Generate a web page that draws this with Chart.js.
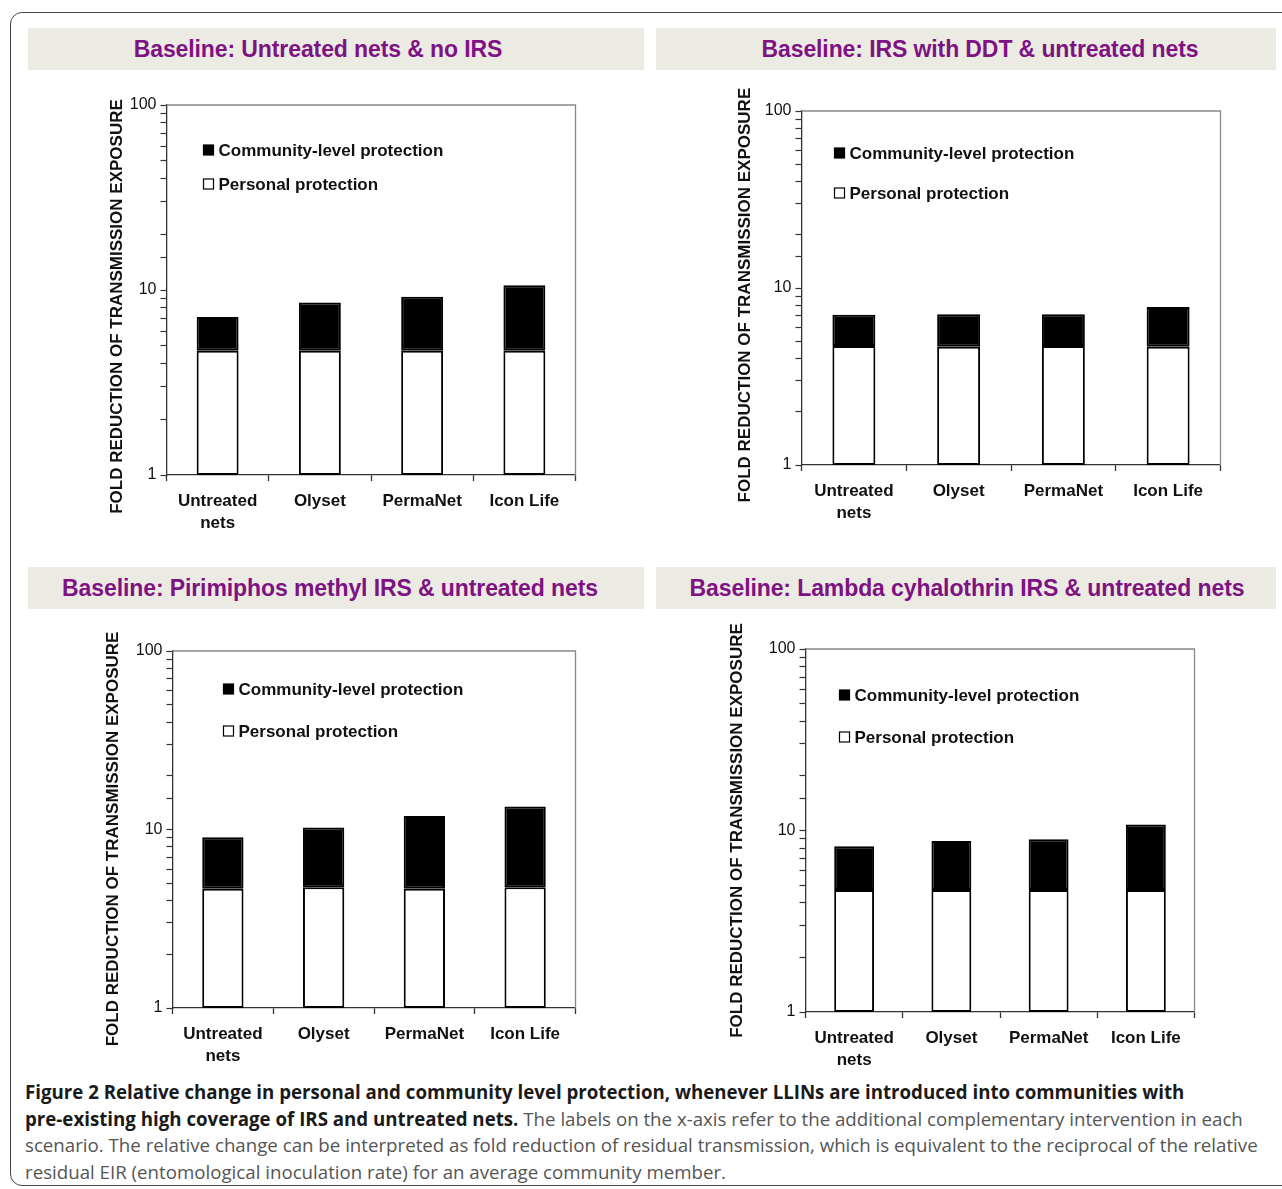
<!DOCTYPE html>
<html>
<head>
<meta charset="utf-8">
<script src="https://cdn.jsdelivr.net/npm/chart.js@4/dist/chart.umd.min.js"></script>
<style>
  body { margin: 0; background: #fff; width: 1282px; height: 1189px; overflow: hidden; position: relative; }
  #frame { position: absolute; left: 10px; top: 12px; width: 1300px; height: 1172px; border: 1.5px solid #444; border-radius: 12px; }
  .bar { position: absolute; height: 42px; background: #ecebe3; display: flex; align-items: center; justify-content: center;
         font: bold 23px "Liberation Sans", Arial, sans-serif; color: #7e1282; letter-spacing: -0.1px; white-space: nowrap; }
  .bar span { position: relative; }
  .box { position: absolute; }
  #caption { position: absolute; left: 25px; top: 1079px; font-family: "Open Sans", sans-serif; font-size: 18.7px;
             line-height: 26.5px; color: #555; white-space: nowrap; }
  #caption b { color: #1a1a1a; }
</style>
</head>
<body>
<div id="frame"></div>
<div id="panels"></div>
<div id="caption"><b>Figure 2 Relative change in personal and community level protection, whenever LLINs are introduced into communities with<br>pre-existing high coverage of IRS and untreated nets.</b> The labels on the x-axis refer to the additional complementary intervention in each<br>scenario. The relative change can be interpreted as fold reduction of residual transmission, which is equivalent to the reciprocal of the relative<br>residual EIR (entomological inoculation rate) for an average community member.</div>

<script>
// categories on the x axis
const categories = [['Untreated', 'nets'], 'Olyset', 'PermaNet', 'Icon Life'];
const yTickLabels = [1, 10, 100];

const titles = [
  'Baseline: Untreated nets & no IRS',
  'Baseline: IRS with DDT & untreated nets',
  'Baseline: Pirimiphos methyl IRS & untreated nets',
  'Baseline: Lambda cyhalothrin IRS & untreated nets'
];

// fold reduction, white part (personal) and black part on top (community)
const personal1 = [4.7, 4.7, 4.7, 4.7];
const community1 = [2.45, 3.85, 4.5, 5.9];
const personal2 = [4.7, 4.65, 4.7, 4.65];
const community2 = [2.35, 2.45, 2.4, 3.15];
const personal3 = [4.65, 4.75, 4.65, 4.75];
const community3 = [4.4, 5.5, 7.25, 8.7];
const personal4 = [4.7, 4.7, 4.7, 4.7];
const community4 = [3.5, 4.05, 4.25, 6.1];

const personalAll = [personal1, personal2, personal3, personal4];
const communityAll = [community1, community2, community3, community4];

// where things go on the page
const bars = [
  { left: 28, top: 28, width: 616, shift: -18 },
  { left: 656, top: 28, width: 620, shift: 14 },
  { left: 28, top: 567, width: 616, shift: -6 },
  { left: 656, top: 567, width: 620, shift: 1 }
];
// yPush = spaces after the axis title, to nudge it down like the original
const plots = [
  { l: 166, t: 105, r: 575, b: 475, titleX: 117, leg: [37, 45, 79], yPush: 7 },
  { l: 801, t: 111, r: 1220, b: 465, titleX: 745, leg: [33, 42, 82], yPush: 3 },
  { l: 172, t: 651, r: 575, b: 1008, titleX: 113, leg: [51, 38, 80], yPush: 4 },
  { l: 805, t: 649, r: 1194, b: 1012, titleX: 737, leg: [34, 46, 88], yPush: 0 }
];

const TOP_PAD = 40, RIGHT_PAD = 10, X_H = 64, TITLE_SIZE = 17;
const Y_TITLE = 'FOLD REDUCTION OF TRANSMISSION EXPOSURE';

// top + right lines of the plot box
const framePlugin = {
  id: 'frameBox',
  beforeDatasetsDraw(chart) {
    const { ctx, chartArea: a } = chart;
    ctx.save();
    ctx.strokeStyle = '#888';
    ctx.lineWidth = 1.3;
    ctx.beginPath();
    ctx.moveTo(a.left, a.top);
    ctx.lineTo(a.right, a.top);
    ctx.lineTo(a.right, a.bottom);
    ctx.stroke();
    ctx.restore();
  }
};

// legend drawn inside the plot, community first
const legendPlugin = {
  id: 'innerLegend',
  afterDraw(chart, args, opts) {
    const { ctx, chartArea: a } = chart;
    const ds = chart.data.datasets.slice().reverse();
    const ys = [opts.dy1, opts.dy2];
    ctx.save();
    ctx.font = 'bold 17px "Liberation Sans", Arial, sans-serif';
    ctx.textBaseline = 'middle';
    ds.forEach((d, i) => {
      const x = a.left + opts.dx, y = a.top + ys[i];
      ctx.fillStyle = d.backgroundColor;
      ctx.strokeStyle = '#000';
      ctx.lineWidth = 1.2;
      ctx.fillRect(x, y - 5, 10, 10);
      ctx.strokeRect(x, y - 5, 10, 10);
      ctx.fillStyle = '#111';
      ctx.fillText(d.label, x + 15, y + 1);
    });
    ctx.restore();
  }
};

const panels = document.getElementById('panels');

for (let i = 0; i < 4; i++) {
  const b = bars[i];
  const bar = document.createElement('div');
  bar.className = 'bar';
  bar.style.left = b.left + 'px';
  bar.style.top = b.top + 'px';
  bar.style.width = b.width + 'px';
  bar.innerHTML = '<span style="left:' + b.shift + 'px"></span>';
  bar.firstChild.textContent = titles[i];
  panels.appendChild(bar);

  const p = plots[i];
  const boxLeft = p.titleX - TITLE_SIZE / 2;
  const yw = p.l - boxLeft;
  const box = document.createElement('div');
  box.className = 'box';
  box.style.left = boxLeft + 'px';
  box.style.top = (p.t - TOP_PAD) + 'px';
  box.style.width = (p.r + RIGHT_PAD - boxLeft) + 'px';
  box.style.height = (p.b + X_H - p.t + TOP_PAD) + 'px';
  const cv = document.createElement('canvas');
  box.appendChild(cv);
  panels.appendChild(box);

  new Chart(cv, {
    type: 'bar',
    data: {
      labels: categories,
      datasets: [
        { label: 'Personal protection', data: personalAll[i], backgroundColor: '#ffffff', borderColor: '#000', borderWidth: 2, borderSkipped: false },
        { label: 'Community-level protection', data: communityAll[i], backgroundColor: '#000000', borderColor: '#000', borderWidth: 2, borderSkipped: false }
      ]
    },
    options: {
      responsive: true,
      maintainAspectRatio: false,
      animation: false,
      datasets: { bar: { barPercentage: 0.41, categoryPercentage: 1 } },
      layout: { padding: { left: 0, top: TOP_PAD, right: RIGHT_PAD, bottom: 0 } },
      plugins: {
        legend: { display: false },
        tooltip: { enabled: false },
        innerLegend: { dx: p.leg[0], dy1: p.leg[1], dy2: p.leg[2] }
      },
      scales: {
        x: {
          stacked: true,
          offset: true,
          grid: { offset: true, drawOnChartArea: false, drawTicks: true, tickLength: 6, color: '#333', tickWidth: 1.3 },
          border: { color: '#333', width: 1.3 },
          ticks: { autoSkip: false, maxRotation: 0, padding: 9, color: '#111',
                   font: { family: '"Liberation Sans", Arial, sans-serif', size: 17, weight: 'bold', lineHeight: 1.3 } },
          afterFit(s) { s.height = X_H; }
        },
        y: {
          type: 'logarithmic',
          stacked: true,
          min: 1,
          max: 100,
          grid: { drawOnChartArea: false, drawTicks: true, tickLength: 6, color: '#333', tickWidth: 1.2 },
          border: { color: '#333', width: 1.3 },
          ticks: { autoSkip: false, padding: 4, color: '#111',
                   font: { family: '"Liberation Sans", Arial, sans-serif', size: 16 },
                   callback: v => yTickLabels.includes(v) ? String(v) : '' },
          title: { display: true, text: Y_TITLE + ' '.repeat(p.yPush), color: '#111', padding: 0,
                   font: { family: '"Liberation Sans", Arial, sans-serif', size: TITLE_SIZE, weight: 'bold', lineHeight: 1 } },
          afterFit(s) { s.width = yw; }
        }
      }
    },
    plugins: [framePlugin, legendPlugin]
  });
}
</script>
</body>
</html>
